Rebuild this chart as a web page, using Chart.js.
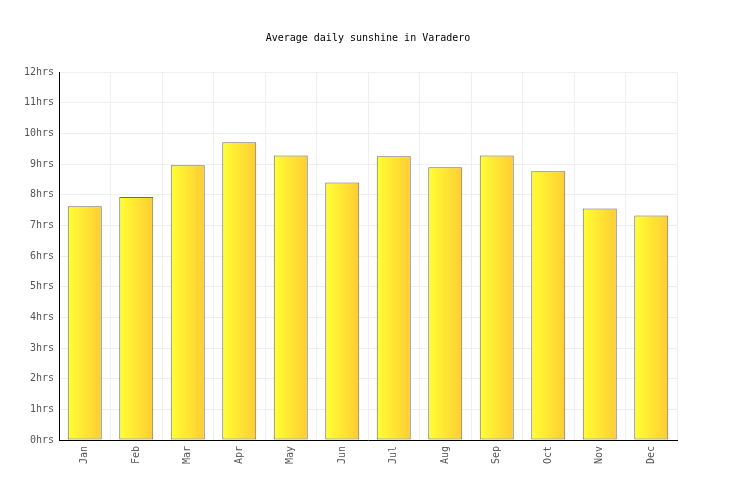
<!DOCTYPE html>
<html>
<head>
<meta charset="utf-8">
<script src="https://cdn.jsdelivr.net/npm/chart.js@4"></script>
<style>
  html, body { margin: 0; padding: 0; background: #fff; }
  #wrap { width: 736px; height: 500px; }
</style>
</head>
<body>
<div id="wrap"><canvas id="sunChart" width="736" height="500"></canvas></div>
<script>
const months = ['Jan', 'Feb', 'Mar', 'Apr', 'May', 'Jun', 'Jul', 'Aug', 'Sep', 'Oct', 'Nov', 'Dec'];
const sunshineHours = [7.62, 7.92, 8.96, 9.71, 9.28, 8.40, 9.25, 8.89, 9.28, 8.76, 7.55, 7.32];
const yTicks = [0, 1, 2, 3, 4, 5, 6, 7, 8, 9, 10, 11, 12];

const FONT = "'DejaVu Sans Mono', monospace";
const BAR_PCT = 0.66;

// horizontal yellow gradient per bar
function barGradient(context) {
    const chart = context.chart;
    const xs = chart.scales.x;
    if(!xs || !chart.chartArea) return '#ffe533';
    const cx = xs.getPixelForValue(context.dataIndex);
    const half = (xs.width / months.length) * BAR_PCT / 2;
    const g = chart.ctx.createLinearGradient(cx - half, 0, cx + half, 0);
    g.addColorStop(0, '#ffff33');
    g.addColorStop(1, '#ffcc33');
    return g;
}

new Chart(document.getElementById('sunChart'), {
    type: 'bar',
    data: {
        labels: months,
        datasets: [{
            label: 'Sunshine',
            data: sunshineHours,
            backgroundColor: barGradient,
            borderColor: '#6a6a6a',
            borderWidth: 1,
            borderSkipped: false,
            categoryPercentage: 1,
            barPercentage: BAR_PCT
        }]
    },
    options: {
        responsive: false,
        animation: false,
        layout: { padding: 0 },
        plugins: {
            legend: { display: false },
            tooltip: { enabled: false },
            title: {
                display: true,
                text: 'Average daily sunshine in Varadero',
                color: '#000',
                font: { family: FONT, size: 10, weight: 'normal' },
                padding: { top: 32, bottom: 28 }
            }
        },
        scales: {
            x: {
                grid: { color: '#efefef', drawTicks: false, offset: true },
                border: { color: '#000', width: 1 },
                ticks: {
                    color: '#555',
                    font: { family: FONT, size: 10 },
                    minRotation: 90,
                    maxRotation: 90,
                    padding: 6
                },
                afterFit: s => { s.height = 60; }
            },
            y: {
                min: 0,
                max: 12,
                afterBuildTicks: s => { s.ticks = yTicks.map(v => ({ value: v })); },
                grid: { color: '#efefef', drawTicks: false },
                border: { color: '#000', width: 1 },
                ticks: {
                    color: '#555',
                    font: { family: FONT, size: 10 },
                    padding: 5,
                    callback: v => v + 'hrs'
                },
                afterFit: s => { s.width = 59; }
            },
            // empty right-hand margin so the title stays centred on the canvas
            yRight: {
                position: 'right',
                min: 0,
                max: 12,
                grid: { display: false, drawTicks: false },
                border: { display: false },
                ticks: { display: false },
                afterFit: s => { s.width = 59; }
            }
        }
    }
});
</script>
</body>
</html>
